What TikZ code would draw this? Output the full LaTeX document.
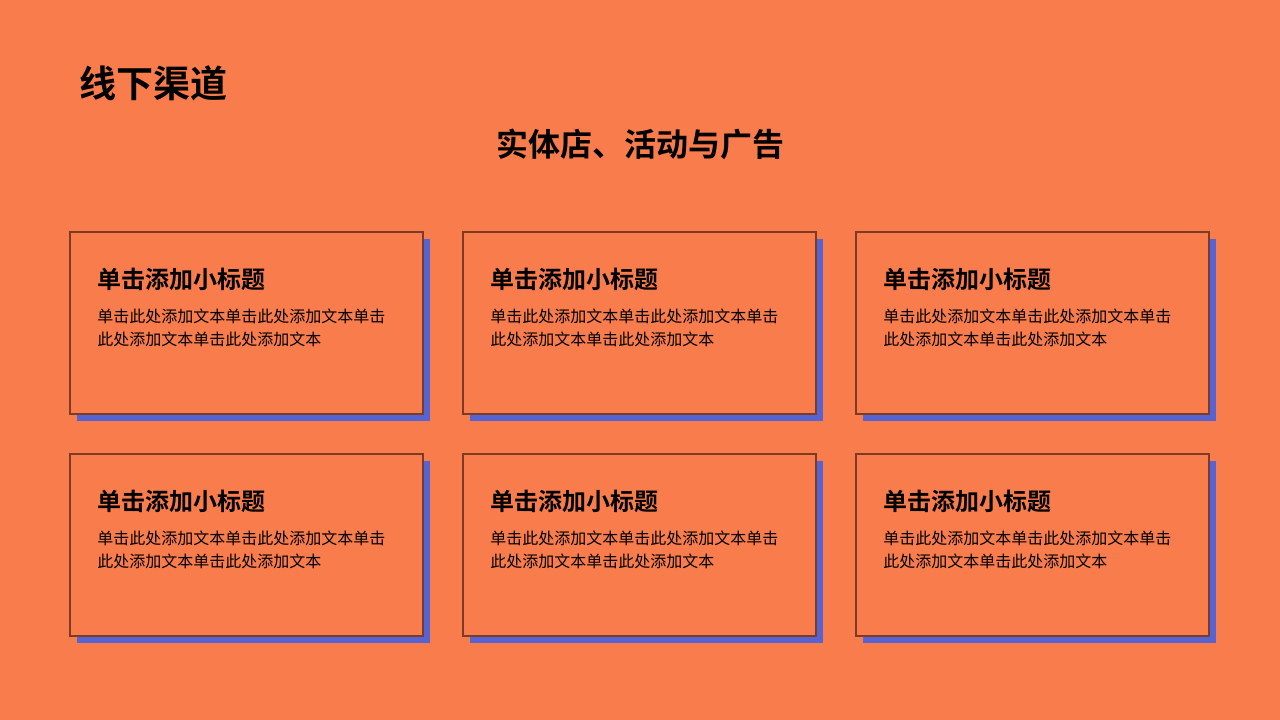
\documentclass[tikz,border=0pt]{standalone}
\usepackage{fontspec}
\setmainfont{Noto Sans CJK SC}
\newfontfamily\cjkb{Noto Sans CJK SC Bold}
\definecolor{bgor}{HTML}{F97C4C}
\definecolor{shblue}{HTML}{5563D3}
\definecolor{bdbrown}{HTML}{7B3B24}
\begin{document}
\begin{tikzpicture}[x=0.75pt,y=-0.75pt,
  card/.style={draw=bdbrown,line width=0.9pt,fill=bgor},
  shadowbox/.style={fill=shblue},
  cardtitle/.style={anchor=base west,inner sep=0pt,font=\cjkb\fontsize{18pt}{22pt}\selectfont},
  cardbody/.style={anchor=north west,inner sep=0pt,align=left,font=\fontsize{12pt}{17.25pt}\selectfont}]
\fill[bgor] (0,0) rectangle (1280,720);
\useasboundingbox (0,0) rectangle (1280,720);
\node[anchor=west,inner sep=0pt,font=\cjkb\fontsize{27.8pt}{32pt}\selectfont] (head) at (79,83) {线下渠道};
\node[anchor=center,inner sep=0pt,font=\cjkb\fontsize{24pt}{28pt}\selectfont] (sub) at (640,144) {实体店、活动与广告};
\foreach \cx/\cy/\n in {70/232/a,463/232/b,856/232/c,70/454/d,463/454/e,856/454/f}{
  \fill[shadowbox] (\cx+7,\cy+7) rectangle (\cx+360,\cy+189);
  \draw[card] (\cx,\cy) rectangle (\cx+353,\cy+182);
  \node[cardtitle] (t\n) at (\cx+27,\cy+56) {单击添加小标题};
  \node[cardbody] (b\n) at (\cx+27,\cy+77) {单击此处添加文本单击此处添加文本单击\\此处添加文本单击此处添加文本};
}
\end{tikzpicture}
\end{document}
